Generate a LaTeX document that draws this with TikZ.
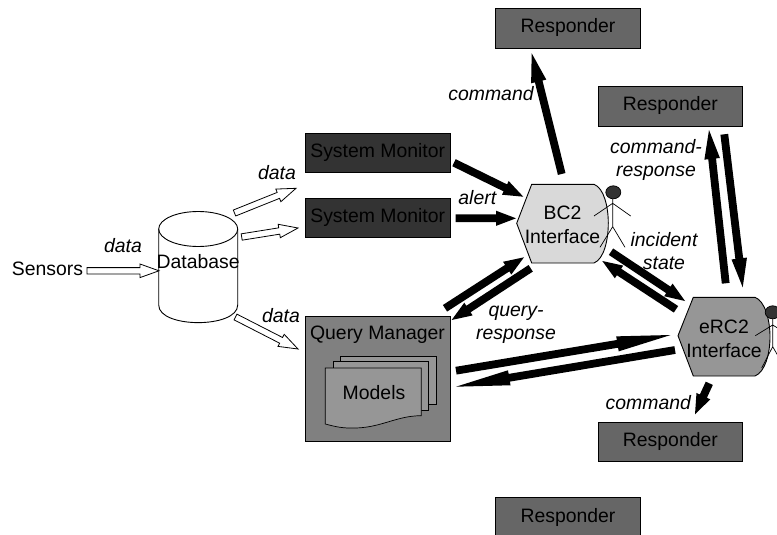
\documentclass[tikz,border=0pt]{standalone}
\usepackage{fontspec}
\setmainfont{Liberation Sans}
\usetikzlibrary{calc}
\newcommand{\blockarrow}[6]{% from, to, style, half width, head length, head half width
  \coordinate (E) at ($(#2)!#5pt!(#1)$);
  \draw[#3] ($(#1)!#4pt!90:(#2)$) -- ($(E)!#4pt!90:(#2)$) -- ($(E)!#6pt!90:(#2)$) -- (#2)
    -- ($(E)!#6pt!-90:(#2)$) -- ($(E)!#4pt!-90:(#2)$) -- ($(#1)!#4pt!-90:(#2)$) -- cycle;}
\newcommand{\hollowarrow}[2]{\blockarrow{#1}{#2}{hollowtip}{3.2}{19}{6.8}}
\newcommand{\solidarrow}[2]{\blockarrow{#1}{#2}{solidtip}{3.9}{20}{7.6}}
\tikzset{
  x=1pt,y=-1pt,
  every node/.style={inner sep=0pt,outer sep=0pt,font=\fontsize{19.4}{24.4}\selectfont,text=black},
  hollowtip/.style={draw=black,fill=white,line width=0.8pt,line join=miter},
  solidtip/.style={draw=none,fill=black},
  box/.style={draw=black,line width=0.9pt,anchor=north west,minimum width=144.7pt,minimum height=39.5pt,align=center},
  monitor/.style={box,fill=gray33},
  responder/.style={box,fill=gray66},
  outline/.style={draw=black,line width=0.9pt},
  lbl/.style={font=\fontsize{19.4}{23.4}\selectfont\itshape,align=center},
  stick/.style={draw=black,line width=0.7pt},
}
\definecolor{gray33}{HTML}{333333}
\definecolor{gray66}{HTML}{666666}
\definecolor{gray80}{HTML}{808080}
\definecolor{gray96}{HTML}{969696}
\definecolor{grayd9}{HTML}{D9D9D9}
\begin{document}
\begin{tikzpicture}
\useasboundingbox (0,0) rectangle (777,535);
\clip (0,0) rectangle (777,535);
% boxes
\node[monitor] (sm1) at (305.3,133.3) {};
\node at (377.7,152) {System Monitor};
\node[monitor] (sm2) at (305.3,198.3) {};
\node at (377.7,217) {System Monitor};
\node[responder] (r1) at (495.3,8.7) {};
\node at (568,27) {Responder};
\node[responder] (r2) at (598,86.7) {};
\node at (670.4,105) {Responder};
\node[responder] (r3) at (598,422) {};
\node at (670.4,441) {Responder};
\node[responder] (r4) at (495.3,497.7) {};
\node at (568,517) {Responder};
% query manager
\node[box,fill=gray80,minimum height=124.3pt] (qm) at (305.3,316.7) {};
\draw[outline,fill=gray96,line width=0.7pt] (340.7,356) -- (436.7,356) -- (436.7,404) -- (340.7,404) -- cycle;
\draw[outline,fill=gray96,line width=0.7pt] (333,361.7) -- (428.3,361.7) -- (428.3,410) -- (333,410) -- cycle;
\draw[outline,fill=gray96,line width=0.7pt] (325.3,368) -- (421.3,368) -- (421.3,415.7)
  .. controls (395,415.7) and (380,429) .. (350,428) .. controls (340,428) and (333,426) .. (325.3,424) -- cycle;
\node at (377.5,335) {Query Manager};
\node at (374,393) {Models};
% database
\draw[outline] (158.7,229) -- (158.7,305) .. controls (158.7,328.5) and (237.7,328.5) .. (237.7,305) -- (237.7,229);
\draw[outline] (198.2,229) ellipse [x radius=39.5, y radius=17.5];
\node (db) at (198.2,261.5) {Database};
\node (sensors) at (47.5,269) {Sensors};
% interfaces
\draw[outline,fill=grayd9] (516.7,223.3) -- (531.7,184.3) -- (594,184.3) .. controls (604,188) and (608.3,207) .. (608.3,223)
  .. controls (608.3,240) and (604,259) .. (594,263) -- (531.7,263) -- cycle;
\node[align=center] (bc) at (562.5,225) {BC2\\Interface};
\draw[outline,fill=gray96] (678,335.7) -- (693.3,297.3) -- (755,297.3) .. controls (765,301) and (770,320) .. (770,336.7)
  .. controls (770,354) and (765,372) .. (755,376) -- (693.3,376) -- cycle;
\node[align=center] (erc) at (724,338.8) {eRC2\\Interface};
% stick figures
\draw[stick,fill=gray33] (613.3,192.3) ellipse [x radius=7.5, y radius=6.5];
\draw[stick] (612.7,199) -- (612.7,226.7) (594,216) -- (612.7,203.3) -- (630.7,216) (600,247.3) -- (612.7,226.7) -- (625,247.3);
\draw[stick,fill=gray33] (772.7,312.3) ellipse [x radius=7.5, y radius=6.5];
\draw[stick] (772.7,319) -- (772.7,346.7) (755.3,335.7) -- (772.7,325) -- (790,335.7) (761.7,368) -- (772.7,346.7) -- (785,368);
% connector ends
\coordinate (h0a) at (87,270.8); \coordinate (h0b) at (159,270.8);
\coordinate (h1a) at (234.5,213); \coordinate (h1b) at (296,188.3);
\coordinate (h2a) at (241.7,237); \coordinate (h2b) at (298,228);
\coordinate (h3a) at (235.5,317); \coordinate (h3b) at (298,349);
\hollowarrow{h0a}{h0b}
\hollowarrow{h1a}{h1b}
\hollowarrow{h2a}{h2b}
\hollowarrow{h3a}{h3b}
\coordinate (a1) at (561.7,174); \coordinate (b1) at (531.7,53.3);
\coordinate (a2) at (454,162.7); \coordinate (b2) at (523.3,196.7);
\coordinate (a3) at (455.7,218.3); \coordinate (b3) at (516,218.3);
\coordinate (a4) at (445,308.3); \coordinate (b4) at (524,257.3);
\coordinate (a5) at (530.7,268.3); \coordinate (b5) at (451.7,320);
\coordinate (a6) at (611,251.7); \coordinate (b6) at (685,301);
\coordinate (a7) at (676,309.3); \coordinate (b7) at (602.3,261);
\coordinate (a8) at (456,370.7); \coordinate (b8) at (670.7,335);
\coordinate (a9) at (675,350); \coordinate (b9) at (456,386.7);
\coordinate (a10) at (725.7,283.3); \coordinate (b10) at (709,130);
\coordinate (a11) at (724.3,134.3); \coordinate (b11) at (742.7,287.3);
\coordinate (a12) at (709.3,383.3); \coordinate (b12) at (695,414.3);
\blockarrow{a1}{b1}{solidtip}{3.9}{29}{7.8}
\solidarrow{a2}{b2}
\solidarrow{a3}{b3}
\solidarrow{a4}{b4}
\solidarrow{a5}{b5}
\solidarrow{a6}{b6}
\solidarrow{a7}{b7}
\blockarrow{a8}{b8}{solidtip}{3.9}{54}{7.6}
\blockarrow{a9}{b9}{solidtip}{3.9}{54}{7.6}
\blockarrow{a10}{b10}{solidtip}{3.9}{29}{7.8}
\blockarrow{a11}{b11}{solidtip}{3.9}{29}{7.8}
\solidarrow{a12}{b12}
% labels
\node[lbl] (l1) at (123,246) {data};
\node[lbl] (l2) at (277,173) {data};
\node[lbl] (l3) at (281,316) {data};
\node[lbl] (l4) at (491,94) {command};
\node[lbl] (l5) at (477.3,198) {alert};
\node[lbl] (l6) at (656,160) {command-\\response};
\node[lbl] (l7) at (664,251) {incident\\state};
\node[lbl] (l8) at (516,324.5) {query-\\response};
\node[lbl] (l9) at (648.3,402.7) {command};
\end{tikzpicture}
\end{document}
